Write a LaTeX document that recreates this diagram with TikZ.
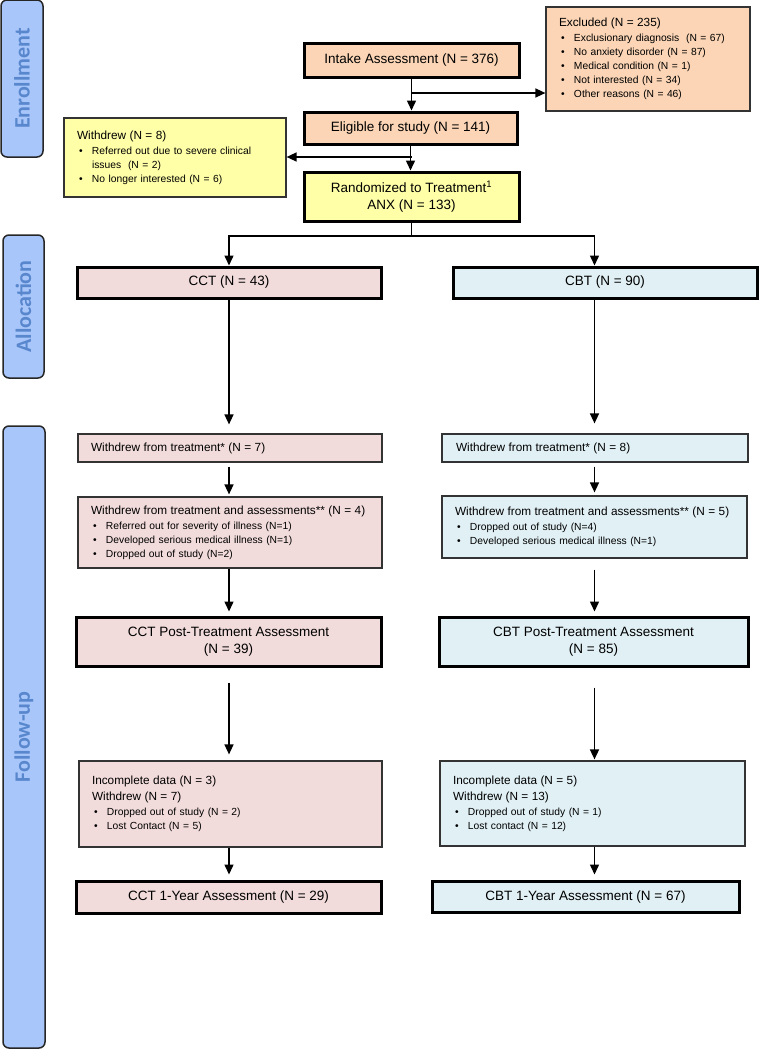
\documentclass[tikz,border=0pt]{standalone}
\usepackage{fontspec}
\setmainfont{Liberation Sans}
\newfontfamily\bandfont{Carlito}
\usepackage{tikz}
\usetikzlibrary{arrows.meta}
\definecolor{peach}{RGB}{251,213,181}
\definecolor{yellowbox}{RGB}{255,255,168}
\definecolor{pinkbox}{RGB}{242,220,219}
\definecolor{bluebox}{RGB}{225,240,245}
\definecolor{bandblue}{RGB}{168,198,250}
\definecolor{bandtext}{RGB}{88,135,205}
\newcommand{\ttl}{\fontsize{11.8}{14}\selectfont}
\newcommand{\itm}{\fontsize{10.3}{14}\selectfont}
\newcommand{\bul}{\hspace*{2pt}\makebox[13pt][l]{\textbullet}}
\tikzstyle{mainbox}=[draw, line width=3pt, inner sep=2pt, align=center, font=\fontsize{13.5}{17}\selectfont]
\tikzstyle{thinbox}=[draw=black!80, line width=1.2pt, inner xsep=13pt, inner ysep=2pt, align=left, font=\itm]
\tikzstyle{band}=[draw=black!85, line width=1.5pt, rounded corners=6pt, fill=bandblue, text=bandtext, rotate=90, font=\bandfont\bfseries\fontsize{22}{22}\selectfont]
\tikzstyle{arr}=[line width=1.5pt, -{Triangle[length=10pt,width=9pt]}]
\tikzstyle{conn}=[line width=1.5pt]

\begin{document}
\begin{tikzpicture}[x=1pt, y=-1pt]
        \useasboundingbox (0,0) rectangle (759,1050);
        % side bands
        \node[band, minimum width=157pt, minimum height=42pt] (enroll) at (22,78.5) {Enrollment};
        \node[band, minimum width=143pt, minimum height=41pt] (alloc) at (23.5,306.5) {Allocation};
        \node[band, minimum width=622pt, minimum height=42pt] (follow) at (24,737) {Follow-up};

        % enrollment
        \node[mainbox, fill=peach, minimum width=215pt, minimum height=34pt] (intake) at (411.5,60) {Intake Assessment (N = 376)};
        \node[mainbox, fill=peach, minimum width=213pt, minimum height=32pt] (eligible) at (410.5,128) {Eligible for study (N = 141)};
        \node[mainbox, fill=yellowbox, minimum width=215pt, minimum height=49pt] (randomized) at (411.5,196.5) {Randomized to Treatment\textsuperscript{1}\\ANX (N = 133)};
        \node[thinbox, fill=peach, text width=178pt, minimum height=104pt] (excluded) at (648,59) {{\ttl Excluded (N = 235)}\\[1pt]
            \bul Exclusionary diagnosis~~(N = 67)\\
            \bul No anxiety disorder (N = 87)\\
            \bul Medical condition (N = 1)\\
            \bul Not interested (N = 34)\\
            \bul Other reasons (N = 46)};
        \node[thinbox, fill=yellowbox, text width=196pt, minimum height=79pt] (withdrew) at (175,157.5) {{\ttl Withdrew (N = 8)}\\[1pt]
            \bul Referred out due to severe clinical\\
            \hspace*{15pt}issues~~(N = 2)\\
            \bul No longer interested (N = 6)};

        \draw[arr] (intake.south) -- (intake.south |- eligible.north);
        \coordinate (exsplit) at (411.5,93);
        \draw[arr] (exsplit) -- (exsplit -| excluded.west);
        \draw[arr] (eligible.south) -- (eligible.south |- randomized.north);
        \coordinate (wdsplit) at (411.5,157);
        \draw[arr] (wdsplit) -- (wdsplit -| withdrew.east);

        % allocation
        \node[mainbox, fill=pinkbox, minimum width=304pt, minimum height=31pt] (cct) at (229,282.5) {CCT (N = 43)};
        \node[mainbox, fill=bluebox, minimum width=304pt, minimum height=31pt] (cbt) at (605,282.5) {CBT (N = 90)};
        \coordinate (rsplit) at (411.5,236);
        \coordinate (lcol) at (229,0);
        \coordinate (rcol) at (594.5,0);
        \draw[conn] (randomized.south) -- (rsplit);
        \draw[arr] (rsplit) -| (lcol |- cct.north);
        \draw[arr] (rsplit) -| (rcol |- cbt.north);

        % follow-up, CCT
        \node[thinbox, fill=pinkbox, text width=278pt, minimum height=28pt] (wtl) at (230,448) {{\ttl Withdrew from treatment* (N = 7)}};
        \node[thinbox, fill=pinkbox, text width=278pt, minimum height=71pt] (wtal) at (230,532.5) {{\ttl Withdrew from treatment and assessments** (N = 4)}\\[1pt]
            \bul Referred out for severity of illness (N=1)\\
            \bul Developed serious medical illness (N=1)\\
            \bul Dropped out of study (N=2)};
        \node[mainbox, fill=pinkbox, minimum width=305pt, minimum height=49pt] (postl) at (228.5,641.5) {CCT Post-Treatment Assessment\\(N = 39)};
        \node[thinbox, fill=pinkbox, text width=277pt, minimum height=86pt] (incl) at (230.5,804) {{\ttl Incomplete data (N = 3)}\\[2pt]
            {\ttl Withdrew (N = 7)}\\[1pt]
            \bul Dropped out of study (N = 2)\\
            \bul Lost Contact (N = 5)\par\vspace*{13pt}};
        \node[mainbox, fill=pinkbox, minimum width=305pt, minimum height=32pt] (yearl) at (228.5,897) {CCT 1-Year Assessment (N = 29)};

        \draw[arr, shorten >=9pt] (lcol |- cct.south) -- (lcol |- wtl.north);
        \draw[arr, shorten <=4pt, shorten >=2pt] (lcol |- wtl.south) -- (lcol |- wtal.north);
        \draw[arr, shorten >=4pt] (lcol |- wtal.south) -- (lcol |- postl.north);
        \draw[arr, shorten <=15pt, shorten >=6pt] (lcol |- postl.south) -- (lcol |- incl.north);
        \draw[arr, shorten >=5pt] (lcol |- incl.south) -- (lcol |- yearl.north);

        % follow-up, CBT
        \node[thinbox, fill=bluebox, text width=280pt, minimum height=28pt] (wtr) at (595,448) {{\ttl \hspace*{1pt}Withdrew from treatment* (N = 8)}};
        \node[thinbox, fill=bluebox, text width=279pt, minimum height=62pt] (wtar) at (594.5,527) {{\ttl Withdrew from treatment and assessments** (N = 5)}\\[1pt]
            \bul Dropped out of study (N=4)\\
            \bul Developed serious medical illness (N=1)};
        \node[mainbox, fill=bluebox, minimum width=309pt, minimum height=49pt] (postr) at (593.5,641.5) {CBT Post-Treatment Assessment\\(N = 85)};
        \node[thinbox, fill=bluebox, text width=279pt, minimum height=85pt] (incr) at (592.5,803.5) {{\ttl Incomplete data (N = 5)}\\[2pt]
            {\ttl Withdrew (N = 13)}\\[1pt]
            \bul Dropped out of study (N = 1)\\
            \bul Lost contact (N = 12)\par\vspace*{13pt}};
        \node[mainbox, fill=bluebox, minimum width=307pt, minimum height=31pt] (yearr) at (585.5,896.5) {CBT 1-Year Assessment (N = 67)};

        \draw[arr, shorten >=10pt] (rcol |- cbt.south) -- (rcol |- wtr.north);
        \draw[arr, shorten <=4pt, shorten >=3pt] (rcol |- wtr.south) -- (rcol |- wtar.north);
        \draw[arr, shorten <=11pt, shorten >=4pt] (rcol |- wtar.south) -- (rcol |- postr.north);
        \draw[arr, shorten <=20pt, shorten >=1pt] (rcol |- postr.south) -- (rcol |- incr.north);
        \draw[arr, shorten >=5pt] (rcol |- incr.south) -- (rcol |- yearr.north);
    \end{tikzpicture}
\end{document}
